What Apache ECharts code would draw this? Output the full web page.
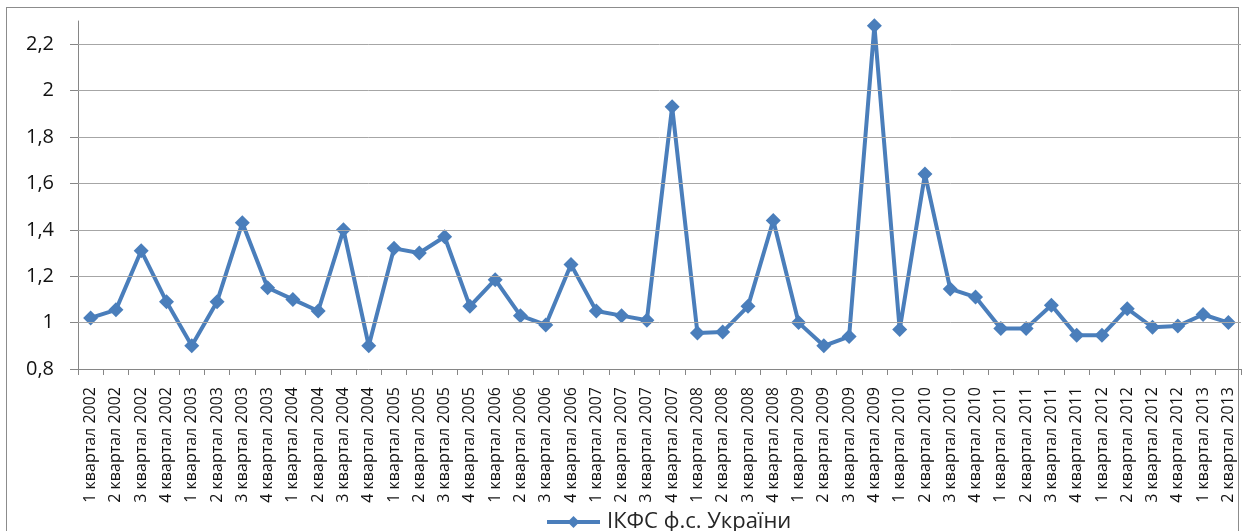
<!DOCTYPE html>
<html>
<head>
<meta charset="utf-8">
<script src="https://cdn.jsdelivr.net/npm/echarts@6/dist/echarts.min.js"></script>
<style>
html,body{margin:0;padding:0;background:#fff;}
#frame{position:absolute;left:6px;top:7px;width:1233px;height:540px;border:1.5px solid #8c8c8c;box-sizing:border-box;}
#chart{position:absolute;left:0;top:0;width:1242px;height:531px;}
</style>
</head>
<body>
<div id="frame"></div>
<div id="chart"></div>
<script>
const categories = [
 "1 квартал 2002","2 квартал 2002","3 квартал 2002","4 квартал 2002",
 "1 квартал 2003","2 квартал 2003","3 квартал 2003","4 квартал 2003",
 "1 квартал 2004","2 квартал 2004","3 квартал 2004","4 квартал 2004",
 "1 квартал 2005","2 квартал 2005","3 квартал 2005","4 квартал 2005",
 "1 квартал 2006","2 квартал 2006","3 квартал 2006","4 квартал 2006",
 "1 квартал 2007","2 квартал 2007","3 квартал 2007","4 квартал 2007",
 "1 квартал 2008","2 квартал 2008","3 квартал 2008","4 квартал 2008",
 "1 квартал 2009","2 квартал 2009","3 квартал 2009","4 квартал 2009",
 "1 квартал 2010","2 квартал 2010","3 квартал 2010","4 квартал 2010",
 "1 квартал 2011","2 квартал 2011","3 квартал 2011","4 квартал 2011",
 "1 квартал 2012","2 квартал 2012","3 квартал 2012","4 квартал 2012",
 "1 квартал 2013","2 квартал 2013"
];
const seriesName = "ІКФС ф.с. України";
const values = [
 1.02, 1.055, 1.31, 1.09,
 0.90, 1.09, 1.43, 1.15,
 1.10, 1.05, 1.40, 0.90,
 1.32, 1.30, 1.37, 1.07,
 1.185, 1.03, 0.99, 1.25,
 1.05, 1.03, 1.01, 1.93,
 0.955, 0.96, 1.07, 1.44,
 1.00, 0.90, 0.94, 2.28,
 0.97, 1.64, 1.145, 1.11,
 0.975, 0.975, 1.075, 0.945,
 0.945, 1.06, 0.98, 0.985,
 1.035, 1.00
];
const gridValues = [1.0, 1.2, 1.4, 1.6, 1.8, 2.0, 2.2];
const yMin = 0.8, yMax = 2.3, yStep = 0.2;

const chart = echarts.init(document.getElementById('chart'), null, {renderer:'canvas'});
const FONT = '"Open Sans", "Noto Sans", sans-serif';
chart.setOption({
  animation:false,
  backgroundColor:'transparent',
  grid:{left:78, right:1, top:21, bottom:162, containLabel:false},
  legend:{
    data:[seriesName],
    top:506, left:540,
    itemWidth:53, itemHeight:15, itemGap:10,
    lineStyle:{width:4},
    textStyle:{fontFamily:FONT, fontSize:22, color:'#262626', padding:[0,0,0,2]}
  },
  xAxis:{
    type:'category',
    data:categories,
    boundaryGap:true,
    axisLine:{lineStyle:{color:'#868686', width:1}},
    axisTick:{show:true, alignWithLabel:false, length:6, lineStyle:{color:'#868686'}},
    axisLabel:{rotate:90, interval:0, margin:18, fontFamily:FONT, fontSize:16, color:'#111'},
    splitLine:{show:false}
  },
  yAxis:{
    type:'value',
    min:yMin, max:yMax, interval:yStep,
    axisLine:{show:true, lineStyle:{color:'#868686', width:1}},
    axisTick:{show:true, length:8, lineStyle:{color:'#868686'}},
    axisLabel:{
      margin:24, fontFamily:FONT, fontSize:20, color:'#111', showMaxLabel:false,
      formatter:v=>{ const r=Math.round(v*10)/10; return String(r).replace('.', ','); }
    },
    splitLine:{show:false}
  },
  series:[{
    name:'grid',
    type:'line',
    data:[],
    silent:true,
    z:1,
    markLine:{
      silent:true, symbol:['none','none'], animation:false,
      label:{show:false},
      lineStyle:{color:'#a6a6a6', width:1, type:'solid'},
      data:gridValues.map(v=>({yAxis:v}))
    }
  },{
    name:seriesName,
    type:'line',
    data:values,
    z:3,
    symbol:'diamond',
    symbolSize:15,
    showSymbol:true,
    lineStyle:{color:'#4a7ebb', width:4},
    itemStyle:{color:'#4a7ebb'},
    clip:false
  }]
});
</script>
</body>
</html>
